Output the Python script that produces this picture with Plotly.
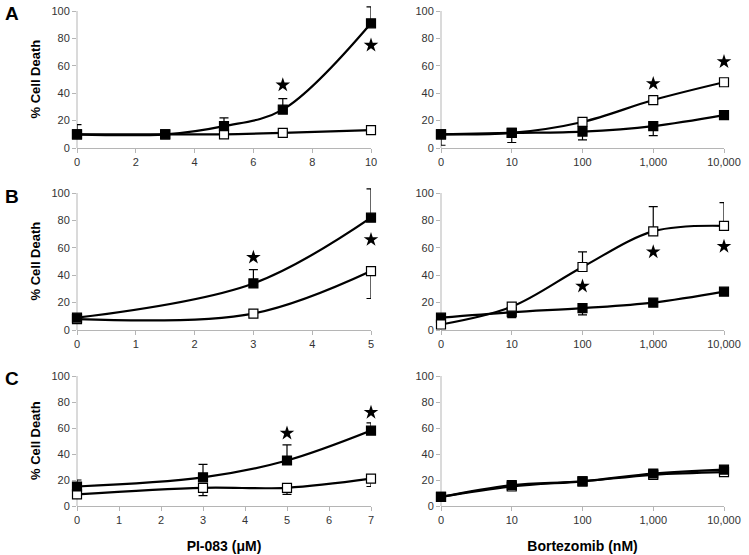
import plotly.graph_objects as go

# ---------------- data ----------------
cat_labels = ["0", "10", "100", "1,000", "10,000"]
cat_idx = [0, 1, 2, 3, 4]

# Panel A
a_left_x = [0, 3, 5, 7, 10]
a_left_filled = [10, 10, 16, 28, 91]
a_left_filled_err = [7, 0, 6, 8, 12]
a_left_open = [10, 10, 10, 11, 13]
a_left_star_x = [7, 10]
a_left_star_y = [46, 75]

a_right_open = [10, 11, 19, 35, 48]
a_right_filled = [10, 11, 12, 16, 24]
a_right_filled_errminus = [8, 7, 6, 7, 0]
a_right_star_x = [3, 4]
a_right_star_y = [47, 63]

# Panel B
b_left_x = [0, 3, 5]
b_left_filled = [9, 34, 82]
b_left_filled_err = [0, 10, 21]
b_left_open = [8, 12, 43]
b_left_open_errminus = [0, 0, 20]
b_left_star_x = [3, 5]
b_left_star_y = [53, 66]

b_right_open = [4, 17, 46, 72, 76]
b_right_open_err = [0, 0, 11, 18, 17]
b_right_filled = [9, 13, 16, 20, 28]
b_right_filled_errminus = [0, 4, 5, 0, 0]
b_right_star_x = [2, 3, 4]
b_right_star_y = [32, 57, 61]

# Panel C
c_left_x = [0, 3, 5, 7]
c_left_filled = [15, 22, 35, 58]
c_left_filled_err = [5, 10, 12, 6]
c_left_open = [9, 14, 14, 21]
c_left_open_errminus = [0, 6, 5, 6]
c_left_star_x = [5, 7]
c_left_star_y = [56, 72]

c_right_open = [7, 15, 19, 24, 26]
c_right_filled = [7, 16, 19, 25, 28]

y_ticks = [0, 20, 40, 60, 80, 100]

# ---------------- figure ----------------
W, H = 749, 555
FONT = "Liberation Sans, Arial, sans-serif"
AX = "#b5b5b5"
YMAX = 100
YHEAD = 105  # headroom above 100 so error bars can poke out

fig = go.Figure()


def px_x(p):
    return p / W


def px_y(p):
    return 1 - p / H


left_x = (77, 371)
right_x = (441, 724)
rows_y = [(11, 148), (193, 330), (376, 506)]


def errbars(xa, ya, x, y, up=None, down=None):
    n = len(y)
    up = up if up is not None else [0] * n
    down = down if down is not None else [0] * n
    keep = [i for i in range(n) if up[i] > 0 or down[i] > 0]
    if not keep:
        return
    fig.add_trace(go.Scatter(
        x=[x[i] for i in keep], y=[y[i] for i in keep], xaxis=xa, yaxis=ya,
        mode="markers", marker=dict(size=1, color="rgba(0,0,0,0)"),
        error_y=dict(type="data", symmetric=False,
                     array=[up[i] for i in keep], arrayminus=[down[i] for i in keep],
                     color="black", thickness=1.2, width=4.5),
        cliponaxis=False, showlegend=False, hoverinfo="skip"))


def series(xa, ya, x, y, filled):
    fig.add_trace(go.Scatter(
        x=x, y=y, xaxis=xa, yaxis=ya, mode="lines+markers",
        line=dict(color="black", width=2.2, shape="spline", smoothing=1.0),
        marker=dict(symbol="square", size=9,
                    color="black" if filled else "white",
                    line=dict(color="black", width=1.2)),
        cliponaxis=False, showlegend=False, hoverinfo="skip"))


def stars(xa, ya, x, y):
    fig.add_trace(go.Scatter(
        x=x, y=y, xaxis=xa, yaxis=ya, mode="markers",
        marker=dict(symbol="star", size=11, color="black", line=dict(width=0)),
        cliponaxis=False, showlegend=False, hoverinfo="skip"))


# A left
errbars("x", "y", a_left_x, a_left_filled, up=a_left_filled_err)
series("x", "y", a_left_x, a_left_open, False)
series("x", "y", a_left_x, a_left_filled, True)
stars("x", "y", a_left_star_x, a_left_star_y)
# A right
errbars("x2", "y2", cat_idx, a_right_filled, down=a_right_filled_errminus)
series("x2", "y2", cat_idx, a_right_open, False)
series("x2", "y2", cat_idx, a_right_filled, True)
stars("x2", "y2", a_right_star_x, a_right_star_y)
# B left
errbars("x3", "y3", b_left_x, b_left_open, down=b_left_open_errminus)
errbars("x3", "y3", b_left_x, b_left_filled, up=b_left_filled_err)
series("x3", "y3", b_left_x, b_left_open, False)
series("x3", "y3", b_left_x, b_left_filled, True)
stars("x3", "y3", b_left_star_x, b_left_star_y)
# B right
errbars("x4", "y4", cat_idx, b_right_filled, down=b_right_filled_errminus)
errbars("x4", "y4", cat_idx, b_right_open, up=b_right_open_err)
series("x4", "y4", cat_idx, b_right_filled, True)
series("x4", "y4", cat_idx, b_right_open, False)
stars("x4", "y4", b_right_star_x, b_right_star_y)
# C left
errbars("x5", "y5", c_left_x, c_left_open, down=c_left_open_errminus)
errbars("x5", "y5", c_left_x, c_left_filled, up=c_left_filled_err)
series("x5", "y5", c_left_x, c_left_open, False)
series("x5", "y5", c_left_x, c_left_filled, True)
stars("x5", "y5", c_left_star_x, c_left_star_y)
# C right
series("x6", "y6", cat_idx, c_right_open, False)
series("x6", "y6", cat_idx, c_right_filled, True)

tickfont = dict(family=FONT, size=11, color="#333333")


def xaxis(dom, anchor, rng, dtick=None, cat=False, title=None):
    d = dict(domain=[px_x(dom[0]), px_x(dom[1])], anchor=anchor, range=rng,
             showgrid=False, zeroline=False, showline=True, linecolor=AX, linewidth=1,
             ticks="outside", ticklen=4, tickcolor=AX, tickfont=tickfont,
             automargin=False)
    if cat:
        d.update(tickmode="array", tickvals=cat_idx, ticktext=cat_labels)
    else:
        d.update(tickmode="linear", tick0=0, dtick=dtick)
    if title:
        d.update(title=dict(text=title, font=dict(family=FONT, size=14, color="black")))
    return d


def yaxis(dom, anchor):
    t, b = dom
    t_ext = t - (b - t) * (YHEAD - YMAX) / YMAX
    return dict(domain=[px_y(b), px_y(t_ext)], anchor=anchor, range=[0, YHEAD],
                tickmode="array", tickvals=y_ticks,
                showgrid=False, zeroline=False, showline=False,
                ticks="outside", ticklen=4, tickcolor=AX, tickfont=tickfont,
                automargin=False)


fig.update_layout(
    xaxis=xaxis(left_x, "y", [0, 10], dtick=2),
    yaxis=yaxis(rows_y[0], "x"),
    xaxis2=xaxis(right_x, "y2", [0, 4], cat=True),
    yaxis2=yaxis(rows_y[0], "x2"),
    xaxis3=xaxis(left_x, "y3", [0, 5], dtick=1),
    yaxis3=yaxis(rows_y[1], "x3"),
    xaxis4=xaxis(right_x, "y4", [0, 4], cat=True),
    yaxis4=yaxis(rows_y[1], "x4"),
    xaxis5=xaxis(left_x, "y5", [0, 7], dtick=1, title="<b>PI-083 (μM)</b>"),
    yaxis5=yaxis(rows_y[2], "x5"),
    xaxis6=xaxis(right_x, "y6", [0, 4], cat=True, title="<b>Bortezomib (nM)</b>"),
    yaxis6=yaxis(rows_y[2], "x6"),
)

# y-axis lines from 0 to 100 only
shapes = []
for xa, ya in [("x", "y"), ("x2", "y2"), ("x3", "y3"), ("x4", "y4"), ("x5", "y5"), ("x6", "y6")]:
    shapes.append(dict(type="line", xref=xa + " domain", yref=ya,
                       x0=0, x1=0, y0=0, y1=YMAX, line=dict(color=AX, width=1), layer="below"))

annotations = []
for letter, ytop in zip(["A", "B", "C"], [14, 197, 378]):
    annotations.append(dict(text="<b>" + letter + "</b>", x=px_x(12), y=px_y(ytop),
                            xref="paper", yref="paper", showarrow=False,
                            xanchor="center", yanchor="middle",
                            font=dict(family=FONT, size=19, color="black")))
for (t, b) in rows_y:
    annotations.append(dict(text="<b>% Cell Death</b>", x=px_x(35), y=px_y((t + b) / 2),
                            xref="paper", yref="paper", showarrow=False, textangle=-90,
                            xanchor="center", yanchor="middle",
                            font=dict(family=FONT, size=13, color="black")))

fig.update_layout(
    width=W, height=H, margin=dict(l=0, r=0, t=0, b=0, autoexpand=False),
    paper_bgcolor="white", plot_bgcolor="white",
    font=dict(family=FONT, color="#333333"),
    annotations=annotations, shapes=shapes, showlegend=False,
)

fig.write_html("out.html", config={"displayModeBar": False},
               post_script="document.body.style.margin='0px';document.body.style.overflow='hidden';")
